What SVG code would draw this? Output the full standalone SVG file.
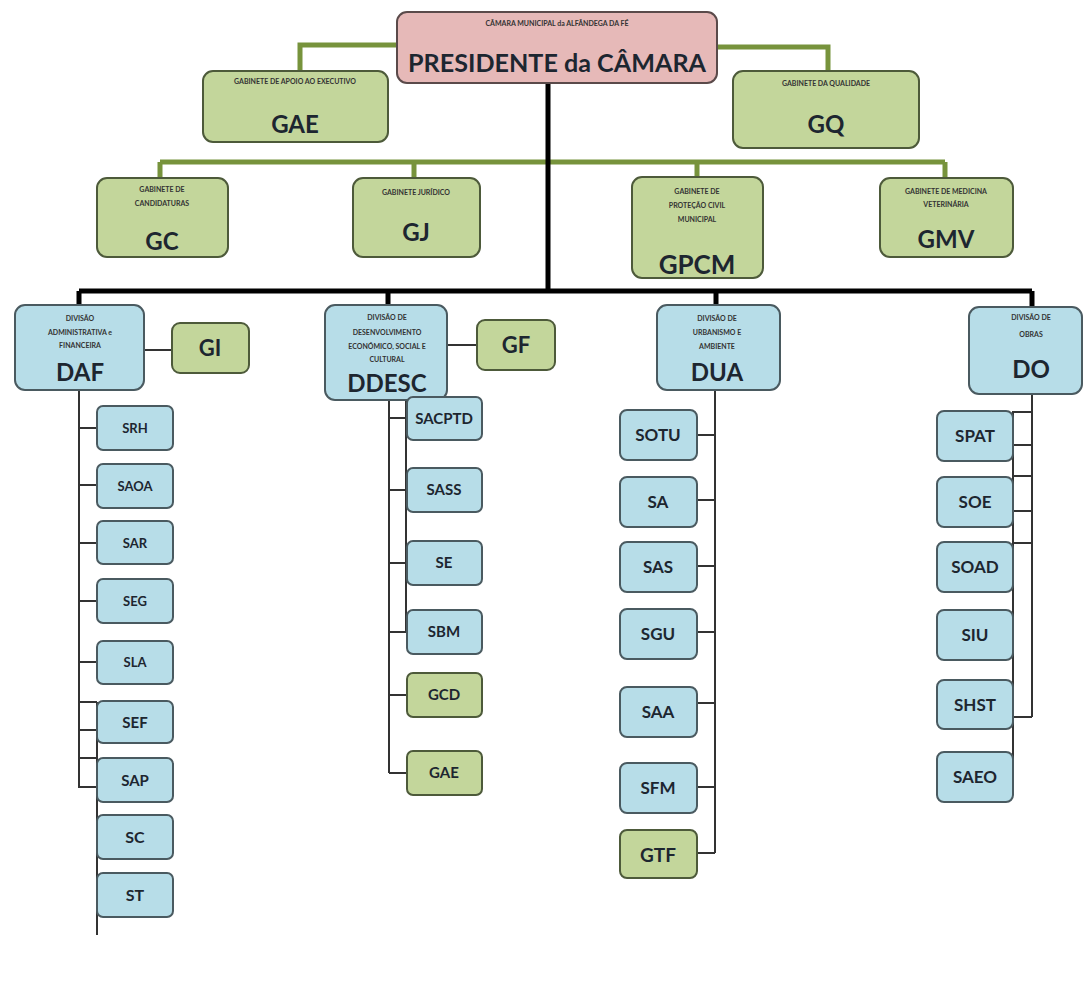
<svg xmlns="http://www.w3.org/2000/svg" width="1083" height="994" viewBox="0 0 1083 994">
<style>
.g{fill:#c3d69b;stroke:#4d5a3a;stroke-width:2}
.b{fill:#b7dde8;stroke:#4a5a60;stroke-width:2}
.p{fill:#e6b9b8;stroke:#5a4a4a;stroke-width:2}
.t{font-family:Lato,"Liberation Sans",sans-serif;font-weight:700;text-anchor:middle;fill:#1d2630}
.s{font-size:7px;fill:#333}
.m{font-size:13px}
.L{font-size:24px}
.gl{stroke:#77933c;stroke-width:5;fill:none}
.bl{stroke:#000;stroke-width:5;fill:none}
.cl{stroke:#333;stroke-width:2;fill:none}
</style>
<rect width="1083" height="994" fill="#fff"/>
<g id="connectors">
<path class="gl" d="M397 45H300V71M717 47H828V71M160 162H945M160 162V178M414 162V178M697 162V178M945 162V178"/>
<path class="bl" d="M548 83V291M79 291H1032M79 291V305M388 291V305M716 291V305M1032 291V307"/>
<path class="cl" d="M144 350H172M447 345H477"/>
<path class="cl" d="M79 390V788M79 428H97M79 485H97M79 543H97M79 601H97M79 662H97M79 702H97M79 730H97M79 758H97M79 787H97M97 702V935"/>
<path class="cl" d="M389 400V773M389 418H407M389 490H407M389 563H407M389 632H407M389 695H407M389 773H407M406 400V632"/>
<path class="cl" d="M715 390V853M697 435H715M697 500H715M697 566H715M697 632H715M697 703H715M697 787H715M697 853H715"/>
<path class="cl" d="M1032 394V717M1013 412H1032M1013 445H1032M1013 476H1032M1013 511H1032M1013 543H1032M1013 717H1032M1013 411V790"/>
</g>
<g id="presidente"><rect class="p" x="397" y="12" width="320" height="71" rx="10"/><text class="t s" x="557" y="26">CÂMARA MUNICIPAL da ALFÂNDEGA DA FÉ</text><text class="t" x="557" y="72" font-size="24" textLength="298" lengthAdjust="spacingAndGlyphs">PRESIDENTE da CÂMARA</text></g>
<g id="gae"><rect class="g" x="203" y="71" width="185" height="71" rx="10"/><text class="t s" x="295" y="84">GABINETE DE APOIO AO EXECUTIVO</text><text class="t L" x="295" y="133">GAE</text></g>
<g id="gq"><rect class="g" x="733" y="71" width="186" height="77" rx="10"/><text class="t s" x="826" y="86">GABINETE DA QUALIDADE</text><text class="t L" x="826" y="133">GQ</text></g>
<g id="gc"><rect class="g" x="97" y="178" width="131" height="79" rx="10"/><text class="t s" x="162" y="192">GABINETE DE</text><text class="t s" x="162" y="206">CANDIDATURAS</text><text class="t L" x="162" y="250">GC</text></g>
<g id="gj"><rect class="g" x="353" y="178" width="127" height="79" rx="10"/><text class="t s" x="416" y="195">GABINETE JURÍDICO</text><text class="t L" x="416" y="241">GJ</text></g>
<g id="gpcm"><rect class="g" x="632" y="177" width="131" height="101" rx="10"/><text class="t s" x="697" y="194">GABINETE DE</text><text class="t s" x="697" y="208">PROTEÇÃO CIVIL</text><text class="t s" x="697" y="222">MUNICIPAL</text><text class="t" x="697" y="274" font-size="26">GPCM</text></g>
<g id="gmv"><rect class="g" x="880" y="178" width="133" height="79" rx="10"/><text class="t s" x="946" y="194">GABINETE DE MEDICINA</text><text class="t s" x="946" y="207">VETERINÁRIA</text><text class="t L" x="946" y="248">GMV</text></g>
<g id="daf"><rect class="b" x="15" y="305" width="129" height="85" rx="10"/><text class="t s" x="80" y="321">DIVISÃO</text><text class="t s" x="80" y="335">ADMINISTRATIVA e</text><text class="t s" x="80" y="348">FINANCEIRA</text><text class="t L" x="80" y="381">DAF</text></g>
<g id="gi"><rect class="g" x="172" y="323" width="77" height="50" rx="8"/><text class="t" x="210" y="356" font-size="22">GI</text></g>
<g id="ddesc"><rect class="b" x="325" y="305" width="122" height="95" rx="10"/><text class="t s" x="387" y="320">DIVISÃO DE</text><text class="t s" x="387" y="335">DESENVOLVIMENTO</text><text class="t s" x="387" y="349">ECONÓMICO, SOCIAL E</text><text class="t s" x="387" y="362">CULTURAL</text><text class="t L" x="387" y="392">DDESC</text></g>
<g id="gf"><rect class="g" x="477" y="320" width="78" height="50" rx="8"/><text class="t" x="516" y="353" font-size="22">GF</text></g>
<g id="dua"><rect class="b" x="657" y="305" width="123" height="85" rx="10"/><text class="t s" x="717" y="321">DIVISÃO DE</text><text class="t s" x="717" y="335">URBANISMO E</text><text class="t s" x="717" y="349">AMBIENTE</text><text class="t L" x="717" y="381">DUA</text></g>
<g id="do"><rect class="b" x="969" y="307" width="113" height="87" rx="10"/><text class="t s" x="1031" y="320">DIVISÃO DE</text><text class="t s" x="1031" y="337">OBRAS</text><text class="t L" x="1031" y="378">DO</text></g>
<g id="srh"><rect class="b" x="97" y="406" width="76" height="44" rx="6"/><text class="t m" x="135" y="433">SRH</text></g>
<g id="saoa"><rect class="b" x="97" y="464" width="76" height="44" rx="6"/><text class="t m" x="135" y="491">SAOA</text></g>
<g id="sar"><rect class="b" x="97" y="521" width="76" height="43" rx="6"/><text class="t m" x="135" y="548">SAR</text></g>
<g id="seg"><rect class="b" x="97" y="579" width="76" height="44" rx="6"/><text class="t m" x="135" y="606">SEG</text></g>
<g id="sla"><rect class="b" x="97" y="641" width="76" height="43" rx="6"/><text class="t m" x="135" y="667">SLA</text></g>
<g id="sef"><rect class="b" x="97" y="701" width="76" height="42" rx="6"/><text class="t" x="135" y="728" font-size="15">SEF</text></g>
<g id="sap"><rect class="b" x="97" y="758" width="76" height="44" rx="6"/><text class="t" x="135" y="786" font-size="15">SAP</text></g>
<g id="sc"><rect class="b" x="97" y="815" width="76" height="44" rx="6"/><text class="t" x="135" y="843" font-size="16">SC</text></g>
<g id="st"><rect class="b" x="97" y="873" width="76" height="44" rx="6"/><text class="t" x="135" y="901" font-size="16">ST</text></g>
<g id="sacptd"><rect class="b" x="407" y="397" width="75" height="43" rx="6"/><text class="t" x="444" y="424" font-size="15">SACPTD</text></g>
<g id="sass"><rect class="b" x="407" y="468" width="75" height="44" rx="6"/><text class="t" x="444" y="495" font-size="15">SASS</text></g>
<g id="se"><rect class="b" x="407" y="541" width="75" height="44" rx="6"/><text class="t" x="444" y="568" font-size="15">SE</text></g>
<g id="sbm"><rect class="b" x="407" y="610" width="75" height="44" rx="6"/><text class="t" x="444" y="637" font-size="15">SBM</text></g>
<g id="gcd"><rect class="g" x="407" y="673" width="75" height="44" rx="6"/><text class="t" x="444" y="700" font-size="15">GCD</text></g>
<g id="gae2"><rect class="g" x="407" y="751" width="75" height="44" rx="6"/><text class="t" x="444" y="778" font-size="15">GAE</text></g>
<g id="sotu"><rect class="b" x="620" y="410" width="77" height="50" rx="7"/><text class="t" x="658" y="441" font-size="17">SOTU</text></g>
<g id="sa"><rect class="b" x="620" y="477" width="77" height="50" rx="7"/><text class="t" x="658" y="508" font-size="17">SA</text></g>
<g id="sas"><rect class="b" x="620" y="542" width="77" height="50" rx="7"/><text class="t" x="658" y="573" font-size="17">SAS</text></g>
<g id="sgu"><rect class="b" x="620" y="609" width="77" height="50" rx="7"/><text class="t" x="658" y="640" font-size="17">SGU</text></g>
<g id="saa"><rect class="b" x="620" y="687" width="77" height="50" rx="7"/><text class="t" x="658" y="718" font-size="17">SAA</text></g>
<g id="sfm"><rect class="b" x="620" y="763" width="77" height="50" rx="7"/><text class="t" x="658" y="794" font-size="17">SFM</text></g>
<g id="gtf"><rect class="g" x="620" y="830" width="77" height="48" rx="7"/><text class="t" x="658" y="862" font-size="19">GTF</text></g>
<g id="spat"><rect class="b" x="937" y="411" width="76" height="50" rx="7"/><text class="t" x="975" y="442" font-size="17">SPAT</text></g>
<g id="soe"><rect class="b" x="937" y="477" width="76" height="50" rx="7"/><text class="t" x="975" y="508" font-size="17">SOE</text></g>
<g id="soad"><rect class="b" x="937" y="542" width="76" height="50" rx="7"/><text class="t" x="975" y="573" font-size="17">SOAD</text></g>
<g id="siu"><rect class="b" x="937" y="610" width="76" height="50" rx="7"/><text class="t" x="975" y="641" font-size="17">SIU</text></g>
<g id="shst"><rect class="b" x="937" y="680" width="76" height="49" rx="7"/><text class="t" x="975" y="711" font-size="17">SHST</text></g>
<g id="saeo"><rect class="b" x="937" y="752" width="76" height="50" rx="7"/><text class="t" x="975" y="783" font-size="17">SAEO</text></g>
</svg>
